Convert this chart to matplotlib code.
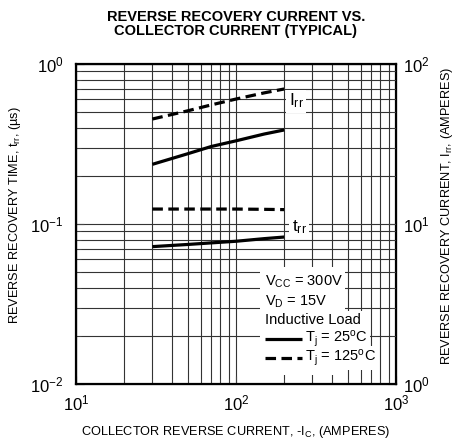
import numpy as np
import matplotlib
matplotlib.use("Agg")
from matplotlib import pyplot as plt
from matplotlib.patches import Rectangle
from matplotlib.ticker import NullFormatter

plt.rcParams['font.family'] = ['Liberation Sans', 'DejaVu Sans']
plt.rcParams['mathtext.fontset'] = 'custom'
plt.rcParams['mathtext.rm'] = 'Liberation Sans'
plt.rcParams['mathtext.it'] = 'Liberation Sans:italic'
plt.rcParams['axes.unicode_minus'] = False

# collector current, A
ic = [30, 50, 70, 100, 150, 200]
# reverse recovery current, A (right axis)
irr_25 = [23.6, 27.5, 30.5, 33.1, 36.5, 38.7]
irr_125 = [45.3, 51.0, 55.5, 60.4, 66.0, 69.8]
# reverse recovery time, us (left axis)
trr_25 = [0.0722, 0.0745, 0.0762, 0.078, 0.081, 0.0829]
trr_125 = [0.124, 0.124, 0.124, 0.124, 0.1235, 0.123]

fig = plt.figure(figsize=(4.62, 4.43), dpi=100)
ax = fig.add_axes([76 / 462, 59 / 443, 320 / 462, 320 / 443])
ax.set_xscale('log')
ax.set_yscale('log')
ax.set_xlim(10, 1000)
ax.set_ylim(0.01, 1)
ax.grid(True, which='both', color='#333333', lw=0.8)
ax.xaxis.set_minor_formatter(NullFormatter())
ax.yaxis.set_minor_formatter(NullFormatter())
ax.tick_params(which='both', direction='in', labelsize=12, color='#444444')
ax.tick_params(axis='x', which='both', pad=7)
ax.tick_params(axis='y', which='both', pad=9)
ax.tick_params(which='major', length=6)
ax.tick_params(which='minor', length=3.5)
for s in ax.spines.values():
    s.set_linewidth(1.6)

ax2 = ax.twinx()
ax2.set_yscale('log')
ax2.set_ylim(1, 100)
ax2.yaxis.set_minor_formatter(NullFormatter())
ax2.tick_params(which='both', direction='in', labelsize=12, pad=5, color='#444444')
ax2.tick_params(which='major', length=6)
ax2.tick_params(which='minor', length=3.5)

lw = 2.3
dash = (3.3, 1.7)
ax.plot(ic, trr_25, color='black', lw=lw, solid_capstyle='butt')
ax.plot(ic, trr_125, color='black', lw=lw, dashes=dash)
ax2.plot(ic, irr_25, color='black', lw=lw, solid_capstyle='butt')
ax2.plot(ic, irr_125, color='black', lw=lw, dashes=dash)

# curve labels
ax2.text(0.6875, 0.884, r'I$_{\mathregular{rr}}$', transform=ax2.transAxes, fontsize=12.5,
         ha='center', va='center', bbox=dict(fc='white', ec='none', pad=1.5))
ax2.text(0.697, 0.49, r't$_{\mathregular{rr}}$', transform=ax2.transAxes, fontsize=12.5,
         ha='center', va='center', bbox=dict(fc='white', ec='none', pad=1.5))

# legend block
ax2.add_patch(Rectangle((0.575, 0.028), 0.266, 0.338, transform=ax2.transAxes,
                        fc='white', ec='none', zorder=3))
box = dict(fc='white', ec='none', pad=1.5)
rows = [r'V$_{\mathregular{CC}}$ = 300V', r'V$_{\mathregular{D}}$ = 15V', 'Inductive Load']
for txt, y in zip(rows, [0.319, 0.256, 0.2]):
    ax2.text(0.591, y, txt, transform=ax2.transAxes, fontsize=10.5, ha='left',
             va='center', bbox=box, zorder=4)
ax2.plot([0.591, 0.706], [0.141, 0.141], transform=ax2.transAxes, color='black',
         lw=lw, solid_capstyle='butt', zorder=5)
ax2.plot([0.591, 0.706], [0.081, 0.081], transform=ax2.transAxes, color='black',
         lw=lw, dashes=dash, zorder=5)
ax2.text(0.716, 0.141, r'T$_{\mathregular{j}}$ = 25$^{\mathregular{o}}$C', transform=ax2.transAxes,
         fontsize=10.5, ha='left', va='center', bbox=box, zorder=4)
ax2.text(0.716, 0.081, r'T$_{\mathregular{j}}$ = 125$^{\mathregular{o}}$C', transform=ax2.transAxes,
         fontsize=10.5, ha='left', va='center', bbox=box, zorder=4)

fig.text(236 / 462, 1 - 24 / 443, 'REVERSE RECOVERY CURRENT VS.\nCOLLECTOR CURRENT (TYPICAL)',
         ha='center', va='center', fontsize=10.5, fontweight='bold', linespacing=1.0)
fig.text(236 / 462, 1 - 432 / 443, r'COLLECTOR REVERSE CURRENT, -I$_{\mathregular{C}}$, (AMPERES)',
         ha='center', va='center', fontsize=9.2)
fig.text(15 / 462, 1 - 215 / 443, r'REVERSE RECOVERY TIME, t$_{\mathregular{rr}}$, (µs)',
         ha='center', va='center', rotation=90, fontsize=9.2)
fig.text(447 / 462, 1 - 216 / 443, r'REVERSE RECOVERY CURRENT, I$_{\mathregular{rr}}$, (AMPERES)',
         ha='center', va='center', rotation=90, fontsize=9.2)

fig.savefig('out.png', dpi=100)
